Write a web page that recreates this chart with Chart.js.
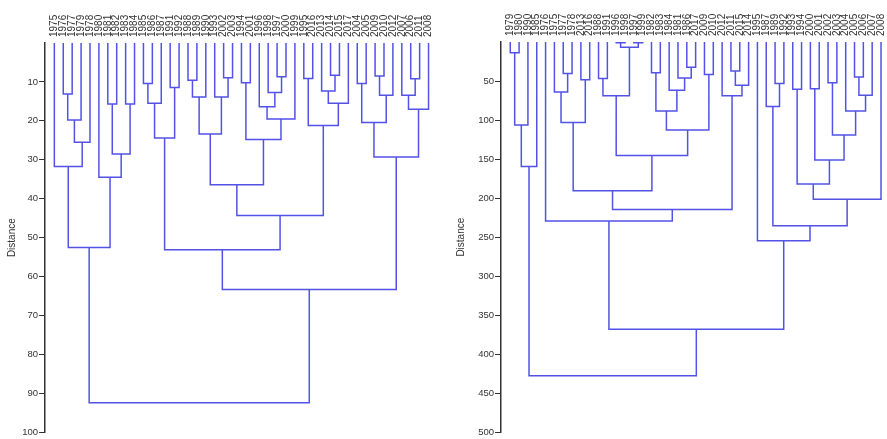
<!DOCTYPE html>
<html>
<head>
<meta charset="utf-8">
<script src="https://cdn.jsdelivr.net/npm/chart.js@4.4.1/dist/chart.umd.min.js"></script>
<style>
  html, body { margin: 0; padding: 0; background: #fff; }
  #wrap { position: relative; width: 887px; height: 439px; }
  canvas { position: absolute; top: 0; }
  #left { left: 0; }
  #right { left: 443px; }
</style>
</head>
<body>
<div id="wrap">
  <canvas id="left" width="443" height="439"></canvas>
  <canvas id="right" width="444" height="439"></canvas>
</div>
<script>
// leaf order along the top of each dendrogram
const leftLeaves = [1975, 1976, 1977, 1979, 1978, 1980, 1981, 1982, 1983, 1984, 1985, 1986, 1987, 1991, 1992,
  1988, 1989, 1990, 1993, 2002, 2003, 1994, 2001, 1996, 1998, 1997, 2000, 1999, 1995, 2016, 2013, 2014,
  2015, 2017, 2004, 2005, 2009, 2010, 2012, 2007, 2006, 2011, 2008];
const rightLeaves = [1979, 1980, 1990, 1985, 1976, 1975, 1977, 1978, 2013, 2016, 1988, 1991, 1996, 1998, 1997,
  1999, 1982, 1983, 1984, 1981, 1986, 2017, 2009, 2010, 2012, 2011, 2015, 2014, 1995, 1987, 1989, 1992,
  1993, 1994, 2000, 2001, 2002, 2003, 2004, 2005, 2006, 2007, 2008];

// merges: [child a, child b, distance]; "mK" = result of merge K
const leftMerges = [
  [1976, 1977, 13.1], ["m0", 1979, 19.8], ["m1", 1978, 25.5], [1975, "m2", 31.7],
  [1981, 1982, 15.7], [1983, 1984, 15.7], ["m4", "m5", 28.5], [1980, "m6", 34.5],
  ["m3", "m7", 52.5],
  [1985, 1986, 10.4], ["m9", 1987, 15.5], [1991, 1992, 11.4], ["m10", "m11", 24.4],
  [1988, 1989, 9.6], ["m13", 1990, 13.9], [2002, 2003, 8.9], [1993, "m15", 13.9], ["m14", "m16", 23.4],
  [1994, 2001, 10.2], [1997, 2000, 8.7], [1998, "m19", 12.7], [1996, "m20", 16.4], ["m21", 1999, 19.5],
  ["m18", "m22", 24.8], ["m17", "m23", 36.4],
  [1995, 2016, 9.1], [2014, 2015, 8.3], [2013, "m26", 12.3], ["m27", 2017, 15.5], ["m25", "m28", 21.2],
  ["m24", "m29", 44.3], ["m12", "m30", 53.1],
  [2004, 2005, 10.4], [2009, 2010, 8.5], ["m33", 2012, 13.4], ["m32", "m34", 20.4],
  [2006, 2011, 9.2], [2007, "m36", 13.4], ["m37", 2008, 17.0], ["m35", "m38", 29.3],
  ["m31", "m39", 63.3], ["m8", "m40", 92.4]
];
const rightMerges = [
  [1979, 1980, 13.9], ["m0", 1990, 106.4], ["m1", 1985, 159.4],
  [1977, 1978, 40.2], [1975, "m3", 64], [2013, 2016, 48.3], ["m4", "m5", 103],
  [1988, 1991, 46.6], [1996, 1998, 1], [1997, 1999, 1], ["m8", "m9", 6.7], ["m7", "m10", 69],
  [1982, 1983, 39.4], [1986, 2017, 32.2], [1981, "m13", 46.2], [1984, "m14", 61.8], ["m12", "m15", 88.5],
  [2009, 2010, 41.5], ["m16", "m17", 112.7], ["m11", "m18", 145.4], ["m6", "m19", 190.7],
  [2011, 2015, 37.3], ["m21", 2014, 55.5], [2012, "m22", 69], ["m20", "m23", 214.5], [1976, "m24", 229.3],
  [1989, 1992, 53.3], [1987, "m26", 82.6], [1993, 1994, 60.6], [2000, 2001, 60], [2002, 2003, 52.1],
  [2005, 2006, 44.9], ["m31", 2007, 68.2], [2004, "m32", 88.5], ["m30", "m33", 119], ["m29", "m34", 151.3],
  ["m28", "m35", 181.9], ["m36", 2008, 201.4], ["m27", "m37", 235.5], [1995, "m38", 254.6],
  ["m25", "m39", 368], ["m2", "m40", 427.4]
];

const leftDistTicks = [10, 20, 30, 40, 50, 60, 70, 80, 90, 100];
const rightDistTicks = [50, 100, 150, 200, 250, 300, 350, 400, 450, 500];

const LINE = "#5252e6";
const INK = "#333";
const FONT = "'Liberation Sans', Arial, sans-serif";

// turn the merge list into U-shaped links, null breaks the line between links
function linkPoints(leaves, merges) {
  const pos = {}, hgt = {};
  leaves.forEach((yr, i) => { pos[yr] = i; hgt[yr] = 0; });
  const pts = [];
  merges.forEach(([a, b, h], k) => {
    pts.push({ x: pos[a], y: hgt[a] }, { x: pos[a], y: h },
             { x: pos[b], y: h }, { x: pos[b], y: hgt[b] },
             { x: pos[b], y: null });
    pos["m" + k] = (pos[a] + pos[b]) / 2;
    hgt["m" + k] = h;
  });
  return pts;
}

function drawDendro(id, leaves, merges, distTicks, cfg) {
  const ctx = document.getElementById(id).getContext("2d");
  return new Chart(ctx, {
    type: "line",
    data: {
      datasets: [{
        data: linkPoints(leaves, merges),
        borderColor: LINE,
        borderWidth: 1.5,
        pointRadius: 0,
        tension: 0,
        spanGaps: false,
      }],
    },
    options: {
      responsive: false,
      animation: false,
      devicePixelRatio: 1,
      layout: { padding: { left: 0, right: cfg.padRight, top: 0, bottom: cfg.padBottom } },
      plugins: { legend: { display: false }, tooltip: { enabled: false } },
      scales: {
        x: {
          type: "linear",
          position: "top",
          min: -1.05,
          max: cfg.xMax,
          grid: { display: false, drawTicks: false },
          border: { display: false },
          afterBuildTicks: (scale) => {
            scale.ticks = leaves.map((_, i) => ({ value: i }));
          },
          afterFit: (scale) => { scale.height = cfg.topH; },
          ticks: {
            autoSkip: false,
            minRotation: 90,
            maxRotation: 90,
            padding: 6,
            labelOffset: 12, // rotated top labels sit one line-height left of the tick
            color: INK,
            font: { family: FONT, size: 10 },
            callback: (v) => String(leaves[v]),
          },
        },
        y: {
          type: "linear",
          position: "left",
          reverse: true,
          min: 0,
          max: cfg.yMax,
          afterBuildTicks: (scale) => {
            scale.ticks = distTicks.map((v) => ({ value: v }));
          },
          afterFit: (scale) => { scale.width = cfg.axisW; },
          grid: { drawOnChartArea: false, tickLength: 6, color: INK, lineWidth: 1 },
          border: { color: INK, width: 1.5 },
          ticks: { padding: 1, color: INK, font: { family: FONT, size: 9.5 } },
          title: {
            display: true,
            text: "Distance",
            color: INK,
            font: { family: FONT, size: 10 },
            padding: { top: cfg.titlePad, bottom: 0 },
          },
        },
      },
    },
  });
}

drawDendro("left", leftLeaves, leftMerges, leftDistTicks,
  { xMax: 42.95, yMax: 100, axisW: 45, topH: 43, padRight: 6, padBottom: 5, titlePad: 6 });
drawDendro("right", rightLeaves, rightMerges, rightDistTicks,
  { xMax: 42.27, yMax: 500, axisW: 58, topH: 42, padRight: 0, padBottom: 4, titlePad: 12 });
</script>
</body>
</html>
